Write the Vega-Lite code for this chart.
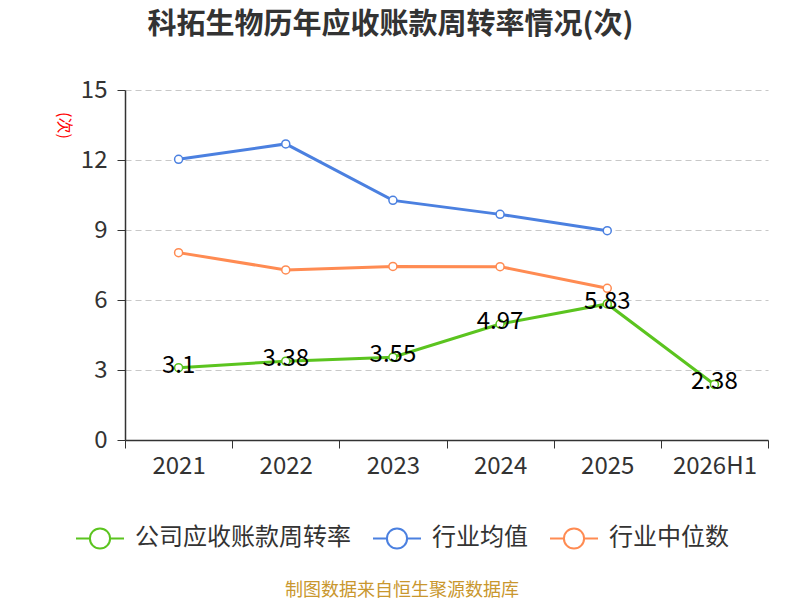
{
  "$schema": "https://vega.github.io/schema/vega-lite/v6.json",
  "autosize": "none",
  "width": 643,
  "height": 350,
  "padding": {"left": 125, "top": 90, "right": 32, "bottom": 160},
  "title": {
    "text": "科拓生物历年应收账款周转率情况(次)",
    "fontSize": 29,
    "fontWeight": "bold",
    "color": "#333333",
    "font": "Noto Sans CJK SC",
    "anchor": "middle",
    "offset": 38,
    "dx": -56
  },
  "data": {
    "values": [
      {"year": "2021", "series": "公司应收账款周转率", "value": 3.1},
      {"year": "2022", "series": "公司应收账款周转率", "value": 3.38},
      {"year": "2023", "series": "公司应收账款周转率", "value": 3.55},
      {"year": "2024", "series": "公司应收账款周转率", "value": 4.97},
      {"year": "2025", "series": "公司应收账款周转率", "value": 5.83},
      {"year": "2026H1", "series": "公司应收账款周转率", "value": 2.38},
      {"year": "2021", "series": "行业均值", "value": 12.03},
      {"year": "2022", "series": "行业均值", "value": 12.69},
      {"year": "2023", "series": "行业均值", "value": 10.27},
      {"year": "2024", "series": "行业均值", "value": 9.67},
      {"year": "2025", "series": "行业均值", "value": 8.97},
      {"year": "2021", "series": "行业中位数", "value": 8.03},
      {"year": "2022", "series": "行业中位数", "value": 7.29},
      {"year": "2023", "series": "行业中位数", "value": 7.44},
      {"year": "2024", "series": "行业中位数", "value": 7.43},
      {"year": "2025", "series": "行业中位数", "value": 6.5}
    ]
  },
  "encoding": {
    "x": {
      "field": "year",
      "type": "ordinal",
      "sort": null,
      "scale": {"type": "band", "paddingInner": 0, "paddingOuter": 0},
      "axis": {
        "title": null,
        "labelAngle": 0,
        "labelFontSize": 24,
        "labelColor": "#333333",
        "labelPadding": 6,
        "tickBand": "extent",
        "tickSize": 8,
        "tickColor": "#333333",
        "domainColor": "#333333",
        "domainWidth": 1.5,
        "grid": false
      }
    },
    "y": {
      "field": "value",
      "type": "quantitative",
      "scale": {"domain": [0, 15]},
      "axis": {
        "values": [0, 3, 6, 9, 12, 15],
        "title": "(次)",
        "titleColor": "#ff0000",
        "titleFontSize": 16,
        "titleFontWeight": "normal",
        "titleAngle": 90,
        "titleX": -62,
        "titleY": 35,
        "titleAlign": "center",
        "titleBaseline": "middle",
        "labelFontSize": 24,
        "labelColor": "#333333",
        "labelPadding": 10,
        "tickSize": 8,
        "tickColor": "#333333",
        "domainColor": "#333333",
        "domainWidth": 1.5,
        "grid": true,
        "gridColor": "#c8c8c8",
        "gridDash": [6, 4],
        "gridWidth": 1.2
      }
    },
    "color": {
      "field": "series",
      "type": "nominal",
      "scale": {
        "domain": ["公司应收账款周转率", "行业均值", "行业中位数"],
        "range": ["#5bc41f", "#4b80e0", "#ff8b52"]
      },
      "legend": {
        "orient": "none",
        "legendX": -50,
        "legendY": 423,
        "direction": "horizontal",
        "title": "制图数据来自恒生聚源数据库",
        "titleOrient": "bottom",
        "titleAnchor": "middle",
        "titleColor": "#c9972e",
        "titleFontSize": 18,
        "titleFontWeight": "normal",
        "titlePadding": 29,
        "titleLimit": 0,
        "labelFontSize": 24,
        "labelColor": "#333333",
        "labelLimit": 0,
        "labelOffset": 10,
        "columnPadding": 18,
        "symbolType": "M -1 0 L -0.42 0 M 0.42 0 L 1 0 M 0.42 0 A 0.42 0.42 0 1 1 -0.42 0 A 0.42 0.42 0 1 1 0.42 0 Z",
        "symbolSize": 2304,
        "symbolStrokeWidth": 2,
        "symbolFillColor": "white"
      }
    }
  },
  "layer": [
    {
      "mark": {"type": "line", "strokeWidth": 3}
    },
    {
      "mark": {"type": "point", "filled": false, "fill": "white", "fillOpacity": 1, "strokeWidth": 1.5, "size": 64, "opacity": 1}
    },
    {
      "transform": [{"filter": "datum.series == '公司应收账款周转率'"}],
      "mark": {"type": "text", "fontSize": 24, "baseline": "middle", "dy": -2},
      "encoding": {
        "text": {"field": "value", "type": "quantitative"},
        "color": {"value": "black"}
      }
    }
  ],
  "config": {
    "font": "Noto Sans CJK SC",
    "view": {"stroke": null}
  }
}
